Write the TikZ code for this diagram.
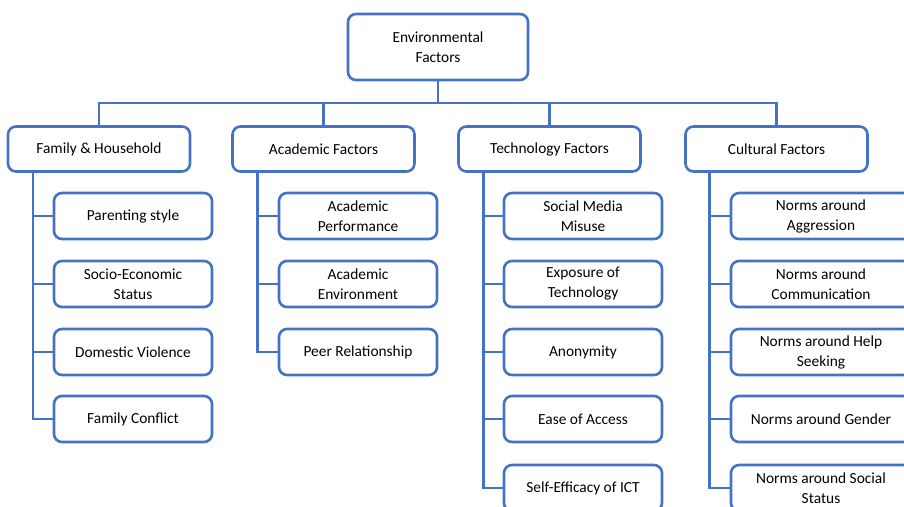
\documentclass[tikz,border=0pt]{standalone}
\usepackage{fontspec}
\setmainfont{Carlito}
\definecolor{boxblue}{HTML}{4472C4}
\begin{document}
\begin{tikzpicture}[x=1pt,y=-1pt,
  box/.style={draw=boxblue,line width=2.6pt,rounded corners=8pt,fill=white,align=center,
    font=\fontsize{15.4}{20}\selectfont,inner sep=0pt,text=black},
  rootbox/.style={box,minimum width=180pt,minimum height=66pt},
  colbox/.style={box,minimum width=182pt,minimum height=45pt},
  kid/.style={box,minimum width=158pt,minimum height=46pt},
  kidw/.style={box,minimum width=180pt,minimum height=46pt},
  link/.style={draw=boxblue,line width=2.6pt}]
\useasboundingbox (0,0) rectangle (904,506);
\clip (0,0) rectangle (904,506);
\coordinate (bus) at (0,103);
% connectors first so boxes sit on top
\coordinate (rootS) at (438,80);
\coordinate (famN) at (99,127);
\coordinate (acaN) at (323.5,127);
\coordinate (tecN) at (549.5,127);
\coordinate (culN) at (776.5,127);
% root
\node[rootbox] (root) at (438,47) {Environmental\\Factors};
% columns
\node[colbox] (fam) at (99,149) {Family \& Household};
\node[colbox] (aca) at (323.5,149) {Academic Factors};
\node[colbox] (tec) at (549.5,149) {Technology Factors};
\node[colbox] (cul) at (776.5,149) {Cultural Factors};
% family children
\node[kid] (f1) at (133,216) {Parenting style};
\node[kid] (f2) at (133,284) {Socio-Economic\\Status};
\node[kid] (f3) at (133,352) {Domestic Violence};
\node[kid] (f4) at (133,419) {Family Conflict};
% academic children
\node[kid] (a1) at (358,216) {Academic\\Performance};
\node[kid] (a2) at (358,284) {Academic\\Environment};
\node[kid] (a3) at (358,352) {Peer Relationship};
% technology children
\node[kid] (t1) at (583,216) {Social Media\\Misuse};
\node[kid] (t2) at (583,284) {Exposure of\\Technology};
\node[kid] (t3) at (583,352) {Anonymity};
\node[kid] (t4) at (583,419) {Ease of Access};
\node[kid] (t5) at (583,488) {Self-Efficacy of ICT};
% cultural children
\node[kidw] (c1) at (821,216) {Norms around\\Aggression};
\node[kidw] (c2) at (821,284) {Norms around\\Communication};
\node[kidw] (c3) at (821,352) {Norms around Help\\Seeking};
\node[kidw] (c4) at (821,419) {Norms around Gender};
\node[kidw] (c5) at (821,488) {Norms around Social\\Status};
% branch points
\coordinate (fb) at ([xshift=-66pt]fam.south);
\coordinate (ab) at ([xshift=-66pt]aca.south);
\coordinate (tb) at ([xshift=-66pt]tec.south);
\coordinate (cb) at ([xshift=-67pt]cul.south);
% connectors
\path[link] (root.south) |- (bus -| fam.north) -- (fam.north);
\path[link] (root.south) |- (bus -| aca.north) -- (aca.north);
\path[link] (root.south) |- (bus -| tec.north) -- (tec.north);
\path[link] (root.south) |- (bus -| cul.north) -- (cul.north);
\foreach \k in {f1,f2,f3,f4}{\path[link] (fb) |- (\k.west);}
\foreach \k in {a1,a2,a3}{\path[link] (ab) |- (\k.west);}
\foreach \k in {t1,t2,t3,t4,t5}{\path[link] (tb) |- (\k.west);}
\foreach \k in {c1,c2,c3,c4,c5}{\path[link] (cb) |- (\k.west);}
\end{tikzpicture}
\end{document}
